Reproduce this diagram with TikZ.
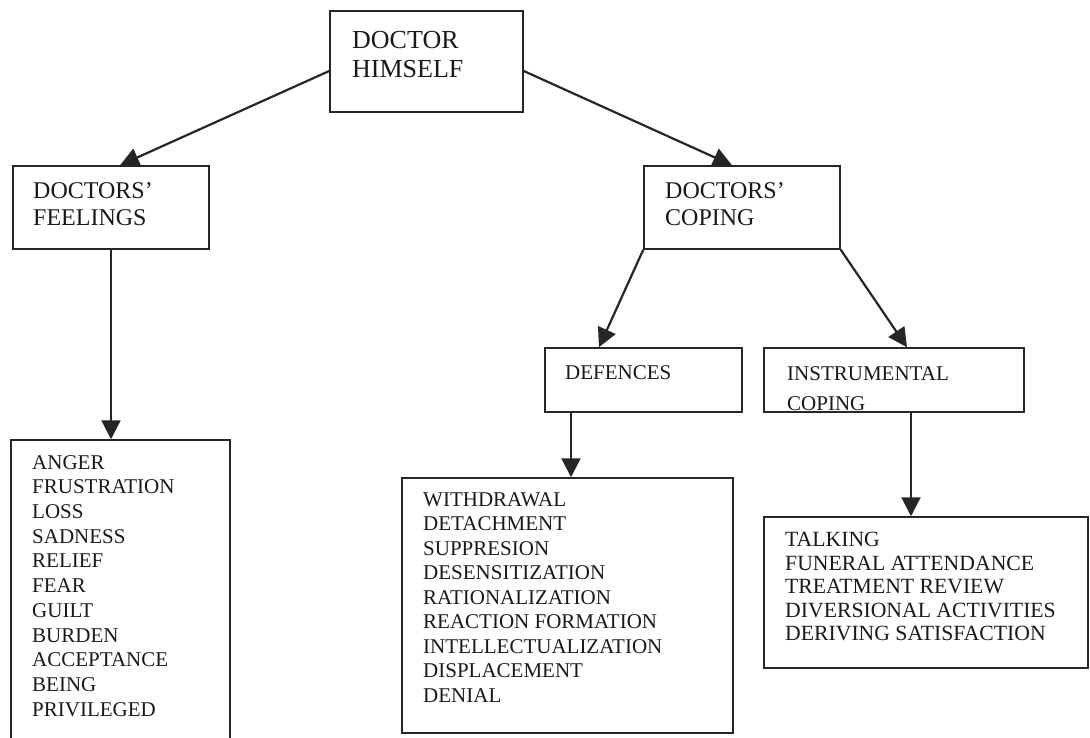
\documentclass[tikz,border=0pt]{standalone}
\usepackage{fontspec}
\setmainfont{Liberation Serif}
\usetikzlibrary{arrows.meta}
\tikzset{
  box/.style={draw=black!85, line width=1.5pt, inner sep=0pt},
  lbl/.style={anchor=north west, inner sep=0pt, align=left, text=black!90},
  link/.style={draw=black!85, line width=2.2pt, -{Triangle[width=19pt,length=19pt]}},
}
\begin{document}
\begin{tikzpicture}[x=1pt, y=-1pt]
    \clip (0,0) rectangle (1090,738);
    % texts
    \node[lbl, font=\fontsize{26}{29}\selectfont] (himself-t) at (352,31) {DOCTOR\\HIMSELF};
    \node[lbl, font=\fontsize{24}{27}\selectfont] (feelings-t) at (33,182) {DOCTORS'\\FEELINGS};
    \node[lbl, font=\fontsize{24}{27}\selectfont] (coping-t) at (665,182) {DOCTORS'\\COPING};
    \node[lbl, font=\fontsize{21}{30}\selectfont] (defences-t) at (565,365) {DEFENCES};
    \node[lbl, font=\fontsize{21}{30}\selectfont] (instr-t) at (787,366) {INSTRUMENTAL\\COPING};
    \node[lbl, font=\fontsize{21}{24.7}\selectfont] (flist-t) at (32,455) {ANGER\\FRUSTRATION\\LOSS\\SADNESS\\RELIEF\\FEAR\\GUILT\\BURDEN\\ACCEPTANCE\\BEING\\PRIVILEGED};
    \node[lbl, font=\fontsize{21}{24.5}\selectfont] (dlist-t) at (423,492) {WITHDRAWAL\\DETACHMENT\\SUPPRESION\\DESENSITIZATION\\RATIONALIZATION\\REACTION FORMATION\\INTELLECTUALIZATION\\DISPLACEMENT\\DENIAL};
    \node[lbl, font=\fontsize{21.7}{23.5}\selectfont] (ilist-t) at (785,532) {TALKING\\FUNERAL ATTENDANCE\\TREATMENT REVIEW\\DIVERSIONAL ACTIVITIES\\DERIVING SATISFACTION};
    % boxes
    \node[box, minimum width=193pt, minimum height=101pt] (himself) at (426.5,61.5) {};
    \node[box, minimum width=196pt, minimum height=83pt] (feelings) at (111,207.5) {};
    \node[box, minimum width=196pt, minimum height=83pt] (coping) at (742,207.5) {};
    \node[box, minimum width=197pt, minimum height=64pt] (defences) at (643.5,380) {};
    \node[box, minimum width=260pt, minimum height=64pt] (instr) at (894,380) {};
    \node[box, minimum width=219pt, minimum height=310pt] (flist) at (120.5,595) {};
    \node[box, minimum width=331pt, minimum height=255pt] (dlist) at (567.5,605.5) {};
    \node[box, minimum width=324pt, minimum height=151pt] (ilist) at (926,592.5) {};
    % connectors
    \coordinate (d-out) at ([xshift=-72.5pt]defences.south);
    \coordinate (i-out) at ([xshift=17pt]instr.south);
    \draw[link] ([yshift=-9.5pt]himself.west) -- ([xshift=9pt]feelings.north);
    \draw[link] ([yshift=-9.5pt]himself.east) -- ([xshift=-10pt]coping.north);
    \draw[link] (coping.south west) -- ([xshift=-44.5pt]defences.north);
    \draw[link] (coping.south east) -- ([xshift=13pt]instr.north);
    \draw[link] (feelings.south) -- (feelings.south |- flist.north);
    \draw[link] (d-out) -- (d-out |- dlist.north);
    \draw[link] (i-out) -- (i-out |- ilist.north);
\end{tikzpicture}
\end{document}
